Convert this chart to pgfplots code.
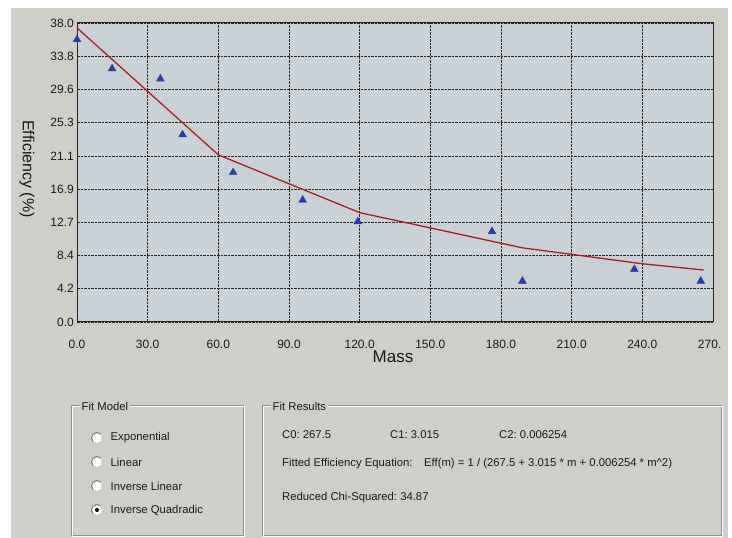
\documentclass[border=0pt]{standalone}
\usepackage{pgfplots}
\pgfplotsset{compat=1.18}
\usepackage{fontspec}
\setmainfont{Liberation Sans}
\definecolor{panelgray}{RGB}{208,206,200}
\definecolor{plotbg}{RGB}{201,209,214}
\definecolor{markblue}{RGB}{40,60,165}
\definecolor{fitred}{RGB}{172,32,32}
\definecolor{boxline}{RGB}{140,142,145}
\definecolor{txt}{RGB}{25,25,25}
\newcommand{\pf}{\fontsize{11.3}{13}\selectfont}
\begin{document}
\begin{tikzpicture}[x=1pt,y=1pt]
\useasboundingbox (0,0) rectangle (732,538);
\fill[white] (0,0) rectangle (732,538);
\fill[panelgray] (11,0) rectangle (728,530);
\begin{axis}[
  at={(77pt,216pt)}, anchor=south west,
  width=636pt, height=299pt, scale only axis,
  xmin=0, xmax=270, ymin=0, ymax=38,
  axis background/.style={fill=plotbg},
  axis line style={draw=black!85, line width=1pt},
  major tick length=0pt,
  xtick={0,30,60,90,120,150,180,210,240,270},
  xticklabels={0.0,30.0,60.0,90.0,120.0,150.0,180.0,210.0,240.0,{270.\phantom{0}}},
  ytick={0,4.22222,8.44444,12.66667,16.88889,21.11111,25.33333,29.55556,33.77778,38},
  yticklabels={0.0,4.2,8.4,12.7,16.9,21.1,25.3,29.6,33.8,38.0},
  xticklabel style={font=\fontsize{12}{14}\selectfont, text=txt, anchor=north, inner sep=0pt, yshift=-18pt},
  yticklabel style={font=\fontsize{12}{14}\selectfont, text=txt, anchor=east, inner sep=0pt, xshift=-3pt},
  grid=major,
  major grid style={draw=black!85, line width=0.7pt, dash pattern=on 2.5pt off 1pt},
  clip=false,
]
\addplot[fitred, line width=1.3pt, mark=none] coordinates {
  (0,37.38) (60,21.24) (120,13.90) (189,9.43) (240,7.40) (266,6.61)
};
\addplot[only marks, mark=triangle*, mark size=4.5pt, mark options={fill=markblue, draw=markblue}] coordinates {
  (0,35.9) (14.9,32.2) (35.4,30.9) (44.8,23.8) (66.3,19.0) (95.8,15.5)
  (119.2,12.75) (176.2,11.5) (189.1,5.2) (236.6,6.7) (264.8,5.2)
};
\end{axis}
% axis labels
\node[font=\fontsize{17}{19}\selectfont, text=txt] at (393,181) {Mass};
\node[font=\fontsize{16}{18}\selectfont, text=txt, rotate=-90] at (27,369) {Efficiency (\%)};
% group boxes
\draw[boxline, line width=0.8pt] (71.5,3) rectangle (243,133);
\draw[white, line width=0.8pt] (72.5,2) rectangle (244,132);
\draw[boxline, line width=0.8pt] (262,3) rectangle (721,133);
\draw[white, line width=0.8pt] (263,2) rectangle (722,132);
\node[fill=panelgray, inner xsep=1.5pt, inner ysep=1pt, anchor=west, font=\pf, text=txt] at (80,131.5) {Fit Model};
\node[fill=panelgray, inner xsep=1.5pt, inner ysep=1pt, anchor=west, font=\pf, text=txt] at (271,131.5) {Fit Results};
% radio buttons
\foreach \yy/\lab in {100/Exponential, 76/Linear, 52/Inverse Linear, 28/Inverse Quadradic}{
  \fill[white] (97,\yy) circle (5.5);
  \draw[black!55, line width=0.9pt] (97,\yy) ++(45:5.5) arc (45:225:5.5);
  \draw[black!20, line width=0.9pt] (97,\yy) ++(225:5.5) arc (225:405:5.5);
  \node[anchor=west, inner sep=0pt, font=\pf, text=txt] at (110.5,\yy) {\lab};
}
\fill[black] (97,28) circle (2);
% fit results text
\node[anchor=west, inner sep=0pt, font=\pf, text=txt] at (282,103) {C0:\ 267.5};
\node[anchor=west, inner sep=0pt, font=\pf, text=txt] at (390,103) {C1:\ 3.015};
\node[anchor=west, inner sep=0pt, font=\pf, text=txt] at (499,103) {C2:\ 0.006254};
\node[anchor=west, inner sep=0pt, font=\pf, text=txt] at (282,74) {Fitted Efficiency Equation:};
\node[anchor=west, inner sep=0pt, font=\pf, text=txt] at (424,74) {Eff(m) = 1 / (267.5 + 3.015 * m + 0.006254 * m\^{}2)};
\node[anchor=west, inner sep=0pt, font=\pf, text=txt] at (282,40) {Reduced Chi-Squared:\ 34.87};
\end{tikzpicture}
\end{document}
